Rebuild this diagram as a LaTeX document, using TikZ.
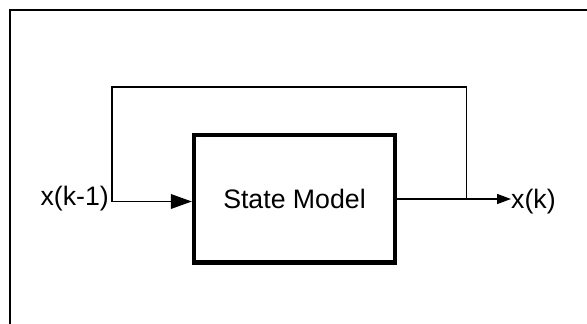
\documentclass[tikz,border=0pt]{standalone}
\usepackage{fontspec}
\setmainfont{Liberation Sans}
\usetikzlibrary{arrows.meta}
\begin{document}
\begin{tikzpicture}[x=1pt,y=-1pt,
  frame/.style={line width=1.5pt},
  wire/.style={line width=1.3pt},
  modelbox/.style={draw,line width=4.3pt,rectangle,minimum width=201pt,minimum height=127.5pt,inner sep=0pt},
  label/.style={inner sep=0pt,font=\fontsize{26.7}{32}\selectfont},
  bigarrow/.style={wire,-{Triangle[length=21pt,width=14.7pt]}},
  smallarrow/.style={wire,-{Triangle[length=14pt,width=10pt]}}]
  \useasboundingbox (0,0) rectangle (587,324);
  \clip (0,0) rectangle (587,324);
  % outer frame (only its top and left edges fall inside the page)
  \draw[frame] (10,10) rectangle (640,360);
  % the model block
  \node[modelbox,font=\fontsize{26.7}{32}\selectfont] (sm) at (294.5,198.75) {State Model};
  % signal labels
  \node[label,anchor=east] (xin) at (109,198.5) {x(k-1)};
  \node[label,anchor=west] (xout) at (511,202) {x(k)};
  % junction points of the feedback loop
  \coordinate (ljoin) at (112,201.5);
  \coordinate (rjoin) at (466.7,199);
  \coordinate (ltop) at (112,87);
  % input and output connectors
  \draw[bigarrow] (ljoin) -- (sm.west |- ljoin);
  \draw[smallarrow] (sm.east |- rjoin) -- (xout.west |- rjoin);
  % feedback path
  \draw[wire] (rjoin) |- (ltop) -- (ljoin);
\end{tikzpicture}
\end{document}
